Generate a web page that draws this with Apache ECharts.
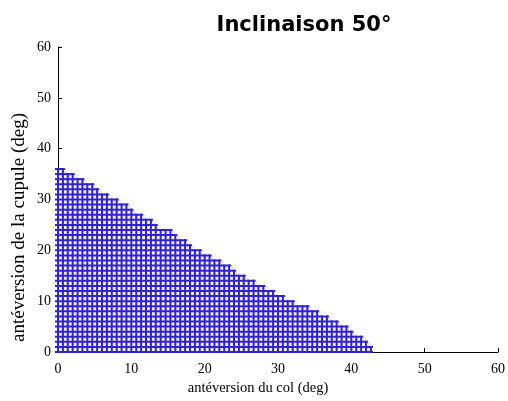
<!DOCTYPE html>
<html>
<head>
<meta charset="utf-8">
<script src="https://cdn.jsdelivr.net/npm/echarts@6/dist/echarts.min.js"></script>
<style>
html,body{margin:0;padding:0;background:#fff;}
#main{width:508px;height:401px;}
</style>
</head>
<body>
<div id="main"></div>
<script>
// Mesh columns (antéversion du col, deg) and the top of the valid region (antéversion de la cupule, deg)
var colX = [0, 0.67, 1.33, 2, 2.67, 3.33, 4, 4.67, 5.33, 6, 6.67, 7.33, 8, 8.67, 9.33, 10,
  10.67, 11.33, 12, 12.67, 13.33, 14, 14.67, 15.33, 16, 16.67, 17.33, 18, 18.67, 19.33, 20,
  20.67, 21.33, 22, 22.67, 23.33, 24, 24.67, 25.33, 26, 26.67, 27.33, 28, 28.67, 29.33, 30,
  30.67, 31.33, 32, 32.67, 33.33, 34, 34.67, 35.33, 36, 36.67, 37.33, 38, 38.67, 39.33, 40,
  40.67, 41.33, 42, 42.67];
var colTop = [36, 36, 35, 35, 34, 34, 33, 33, 32, 31, 31, 30, 30, 29, 29, 28,
  27, 27, 26, 26, 25, 24, 24, 24, 23, 22, 22, 21, 20, 20, 19,
  19, 18, 18, 17, 17, 16, 15, 15, 14, 14, 13, 13, 12, 12, 11,
  11, 10, 10, 9, 9, 9, 8, 8, 7, 7, 6, 6, 5, 5, 4,
  3, 3, 2, 1];
var xTicks = [0, 10, 20, 30, 40, 50, 60];
var yTicks = [0, 10, 20, 30, 40, 50, 60];
var titleText = 'Inclinaison 50°';
var xName = 'antéversion du col (deg)';
var yName = 'antéversion de la cupule (deg)';

var meshColor = '#3022cc';
var fillColor = '#f3ecfd';

// rows of the mesh: for each integer y, the last column that reaches it
var rows = [];
var maxTop = Math.max.apply(null, colTop);
for (var y = 0; y <= maxTop; y++) {
  var xe = 0;
  for (var i = 0; i < colX.length; i++) if (colTop[i] >= y) xe = colX[i];
  rows.push([y, xe]);
}
var cols = colX.map(function (x, i) { return [x, colTop[i], i < colX.length - 1 ? colX[i + 1] : x]; });

var chart = echarts.init(document.getElementById('main'), null, {renderer: 'canvas'});
var serif = '"Liberation Serif", "DejaVu Serif", serif';
chart.setOption({
  animation: false,
  backgroundColor: '#fff',
  title: {
    text: titleText,
    left: 299, top: 10, textAlign: 'center',
    textStyle: {fontFamily: '"DejaVu Sans", sans-serif', fontWeight: 'bold', fontSize: 21, color: '#000'}
  },
  grid: {left: 58, right: 9, top: 47, bottom: 49},
  xAxis: {
    type: 'value', min: 0, max: 60, interval: 10,
    name: xName, nameLocation: 'middle', nameGap: 26,
    nameTextStyle: {fontFamily: serif, fontSize: 14.5, color: '#000', padding: [0, 40, 0, 0]},
    axisLine: {lineStyle: {color: '#000', width: 1}},
    axisTick: {inside: true, length: 4, lineStyle: {color: '#000'}},
    axisLabel: {fontFamily: serif, fontSize: 14, color: '#000', margin: 10},
    splitLine: {show: false}
  },
  yAxis: {
    type: 'value', min: 0, max: 60, interval: 10,
    axisLine: {lineStyle: {color: '#000', width: 1}},
    axisTick: {inside: true, length: 4, lineStyle: {color: '#000'}},
    axisLabel: {fontFamily: serif, fontSize: 14, color: '#000', margin: 7},
    splitLine: {show: false}
  },
  graphic: [{
    type: 'text', left: 10, top: 113, rotation: Math.PI / 2,
    style: {text: yName, fontFamily: serif, fontSize: 19, fill: '#000'}
  }],
  series: [
    {
      type: 'custom', data: cols, silent: true, clip: false, z: 1,
      renderItem: function (params, api) {
        var x0 = api.value(0), h = api.value(1), x1 = api.value(2);
        var a = api.coord([x0, h]), b = api.coord([x1, 0]);
        return {type: 'rect', shape: {x: a[0], y: a[1], width: b[0] - a[0], height: b[1] - a[1]},
          style: {fill: fillColor}};
      }
    },
    {
      type: 'custom', data: rows, silent: true, clip: false, z: 2,
      renderItem: function (params, api) {
        var y = api.value(0), xe = api.value(1);
        var a = api.coord([0, y]), b = api.coord([xe, y]);
        return {type: 'line', shape: {x1: a[0] - 3, y1: a[1], x2: b[0] + 2, y2: b[1]},
          style: {stroke: meshColor, lineWidth: 2}};
      }
    },
    {
      type: 'custom', data: cols, silent: true, clip: false, z: 2,
      renderItem: function (params, api) {
        var x = api.value(0), h = api.value(1);
        var a = api.coord([x, 0]), b = api.coord([x, h]);
        return {type: 'line', shape: {x1: a[0], y1: a[1] + 1, x2: b[0], y2: b[1] - 1},
          style: {stroke: meshColor, lineWidth: 2}};
      }
    }
  ]
});
</script>
</body>
</html>
